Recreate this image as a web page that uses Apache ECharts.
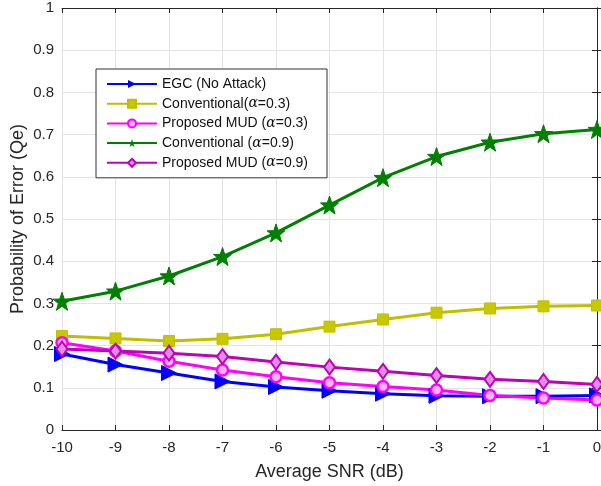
<!DOCTYPE html>
<html>
<head>
<meta charset="utf-8">
<script src="https://cdn.jsdelivr.net/npm/echarts@6/dist/echarts.min.js"></script>
<style>
  html, body { margin: 0; padding: 0; background: #fff; }
  #main { width: 601px; height: 486px; }
</style>
</head>
<body>
<div id="main"></div>
<script>
const snr = [-10, -9, -8, -7, -6, -5, -4, -3, -2, -1, 0];
const egc = [0.180, 0.155, 0.135, 0.115, 0.102, 0.093, 0.086, 0.081, 0.080, 0.080, 0.082];
const conv03 = [0.223, 0.217, 0.211, 0.216, 0.227, 0.245, 0.262, 0.278, 0.288, 0.293, 0.295];
const mud03 = [0.207, 0.187, 0.163, 0.142, 0.126, 0.112, 0.103, 0.095, 0.082, 0.076, 0.071];
const conv09 = [0.305, 0.329, 0.365, 0.411, 0.467, 0.533, 0.598, 0.648, 0.682, 0.702, 0.712];
const mud09 = [0.192, 0.187, 0.182, 0.174, 0.161, 0.149, 0.139, 0.129, 0.120, 0.115, 0.108];

const main = document.getElementById('main');
let myChart = echarts.init(main);

const star = 'path://M0,-10 L2.35,-3.24 L9.51,-3.09 L3.8,1.24 L5.88,8.09 L0,4 L-5.88,8.09 L-3.8,1.24 L-9.51,-3.09 L-2.35,-3.24 Z';
const pairs = (ys) => snr.map((x, i) => [x, ys[i]]);

const gridLine = { show: true, lineStyle: { color: '#e3e3e3', width: 1 } };
const axisText = { color: '#262626', fontSize: 15, fontFamily: 'Arial, Liberation Sans' };
const nameText = { color: '#262626', fontSize: 18, fontFamily: 'Arial, Liberation Sans' };

function line(name, ys, color, symbol, size, extra) {
  return Object.assign({
    name: name,
    type: 'line',
    data: pairs(ys),
    symbol: symbol,
    symbolSize: size,
    lineStyle: { color: color, width: 3 },
    itemStyle: { color: color, borderColor: color },
    animation: false,
  }, extra || {});
}

const option = {
  backgroundColor: '#fff',
  grid: { left: 62, right: 4, top: 8, bottom: 56, outerBoundsMode: 'none', containLabel: false },
  legend: {
    orient: 'vertical',
    left: 96,
    top: 69,
    itemWidth: 50,
    itemHeight: 10,
    itemGap: 5.7,
    padding: [8, 19, 8, 10],
    backgroundColor: '#fff',
    borderColor: '#333',
    borderWidth: 1,
    textStyle: {
      fontSize: 14,
      color: '#111',
      fontFamily: 'Arial, Liberation Sans',
      rich: { a: { fontStyle: 'italic', fontFamily: 'DejaVu Serif', fontSize: 14, color: '#111' } },
    },
    formatter: (name) => name.replace('α', '{a|α}'),
  },
  xAxis: [
    {
      type: 'value',
      min: -10,
      max: 0,
      interval: 1,
      name: 'Average SNR (dB)',
      nameLocation: 'middle',
      nameGap: 33,
      nameMoveOverlap: false,
      nameTextStyle: nameText,
      axisLine: { show: true, onZero: false, lineStyle: { color: '#262626', width: 1 } },
      axisTick: { show: true, inside: true, length: 5, lineStyle: { color: '#262626' } },
      axisLabel: Object.assign({ margin: 10 }, axisText),
      splitLine: gridLine,
    },
    {
      type: 'value',
      position: 'top',
      min: -10,
      max: 0,
      interval: 1,
      axisLine: { show: true, onZero: false, lineStyle: { color: '#262626', width: 1 } },
      axisTick: { show: true, inside: true, length: 5, lineStyle: { color: '#262626' } },
      axisLabel: { show: false },
      splitLine: { show: false },
    },
  ],
  yAxis: [
    {
      type: 'value',
      min: 0,
      max: 1,
      interval: 0.1,
      name: 'Probability of Error (Qe)',
      nameLocation: 'middle',
      nameGap: 35,
      nameMoveOverlap: false,
      nameTextStyle: nameText,
      axisLine: { show: true, lineStyle: { color: '#262626', width: 1 } },
      axisTick: { show: true, inside: true, length: 5, lineStyle: { color: '#262626' } },
      axisLabel: Object.assign({ margin: 8, formatter: (v) => String(Math.round(v * 10) / 10) }, axisText),
      splitLine: gridLine,
    },
    {
      type: 'value',
      position: 'right',
      min: 0,
      max: 1,
      interval: 0.1,
      axisLine: { show: true, lineStyle: { color: '#262626', width: 1 } },
      axisTick: { show: true, inside: true, length: 5, lineStyle: { color: '#262626' } },
      axisLabel: { show: false },
      splitLine: { show: false },
    },
  ],
  series: [
    line('EGC (No Attack)', egc, '#0000ff', 'triangle', 15, { symbolRotate: -90 }),
    line('Conventional(α=0.3)', conv03, '#bfbf00', 'rect', 11, {
      itemStyle: { color: '#c8c800', borderColor: '#bfbf00', borderWidth: 1 },
    }),
    line('Proposed MUD (α=0.3)', mud03, '#ff00ff', 'circle', 11, {
      itemStyle: { color: '#ffb3ff', borderColor: '#ff00ff', borderWidth: 2.5 },
    }),
    line('Conventional (α=0.9)', conv09, '#008000', star, 18),
    line('Proposed MUD (α=0.9)', mud09, '#bf00bf', 'diamond', [11, 15], {
      itemStyle: { color: '#e08ce0', borderColor: '#bf00bf', borderWidth: 2 },
    }),
  ],
};

myChart.setOption(option);
</script>
</body>
</html>
